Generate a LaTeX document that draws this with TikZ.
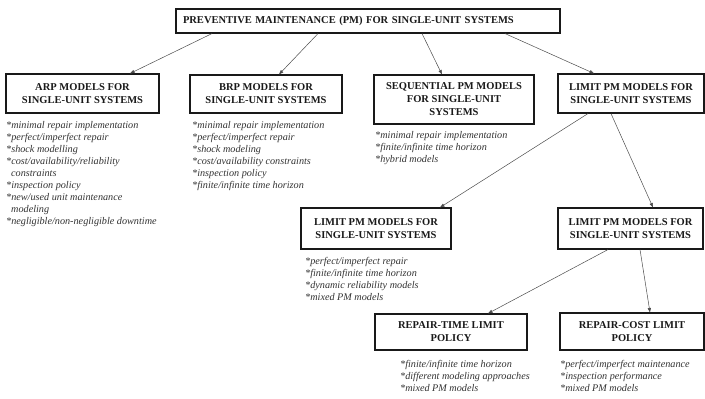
\documentclass[tikz,border=0pt]{standalone}
\usepackage{fontspec}
\setmainfont{Liberation Serif}
\usetikzlibrary{arrows.meta}
\begin{document}
\begin{tikzpicture}[x=1bp,y=-1bp,
  box/.style={draw=black!90, line width=1.1bp, align=center, inner sep=0pt,
    font=\fontsize{10.5bp}{13bp}\selectfont\bfseries, text=black!90},
  sz/.style 2 args={minimum width=#1bp, minimum height=#2bp},
  items/.style={align=left, anchor=north west, inner sep=0pt,
    font=\fontsize{10.2bp}{12bp}\selectfont\itshape, text=black!80},
  link/.style={draw=black!70, line width=0.5bp,
    -{Triangle[length=4.5bp,width=3.2bp]}}]
\useasboundingbox (0,0) rectangle (705,398);

% boxes
\node[box, sz={384}{24}, inner xsep=7bp, text width=370bp, align=left] (top) at (368,21)
  {PREVENTIVE MAINTENANCE (PM) FOR SINGLE-UNIT SYSTEMS};
\node[box, sz={153}{39}] (arp) at (82.5,93.5) {ARP MODELS FOR\\SINGLE-UNIT SYSTEMS};
\node[box, sz={152}{38}] (brp) at (266,94) {BRP MODELS FOR\\SINGLE-UNIT SYSTEMS};
\node[box, sz={160}{49}] (seq) at (454,99.5) {SEQUENTIAL PM MODELS\\FOR SINGLE-UNIT\\SYSTEMS};
\node[box, sz={146}{39}] (lim) at (631,93.5) {LIMIT PM MODELS FOR\\SINGLE-UNIT SYSTEMS};
\node[box, sz={150}{41}] (midl) at (376,228.5) {LIMIT PM MODELS FOR\\SINGLE-UNIT SYSTEMS};
\node[box, sz={145}{41}] (midr) at (630.5,228.5) {LIMIT PM MODELS FOR\\SINGLE-UNIT SYSTEMS};
\node[box, sz={152}{36}] (botl) at (451,332) {REPAIR-TIME LIMIT\\POLICY};
\node[box, sz={144}{37}] (botr) at (632,331.5) {REPAIR-COST LIMIT\\POLICY};

% connectors
\draw[link] ([xshift=-156bp]top.south) -- ([xshift=47.5bp]arp.north);
\draw[link] ([xshift=-50bp]top.south) -- ([xshift=13bp]brp.north);
\draw[link] ([xshift=54bp]top.south) -- ([xshift=-12bp]seq.north);
\draw[link] ([xshift=137bp]top.south) -- ([xshift=-37bp]lim.north);
\draw[link] ([xshift=-43bp]lim.south) -- ([xshift=64bp]midl.north);
\draw[link] ([xshift=-20bp]lim.south) -- ([xshift=22.5bp]midr.north);
\draw[link] ([xshift=-22.5bp]midr.south) -- ([xshift=37bp]botl.north);
\draw[link] ([xshift=9.5bp]midr.south) -- ([xshift=18bp]botr.north);

% feature lists
\node[items] (arplist) at (6,121.5) {*minimal repair implementation\\*perfect/imperfect repair\\*shock modelling\\*cost/availability/reliability\\\hspace*{5bp}constraints\\*inspection policy\\*new/used unit maintenance\\\hspace*{5bp}modeling\\*negligible/non-negligible downtime};
\node[items] (brplist) at (192,121.5) {*minimal repair implementation\\*perfect/imperfect repair\\*shock modeling\\*cost/availability constraints\\*inspection policy\\*finite/infinite time horizon};
\node[items] (seqlist) at (375,131) {*minimal repair implementation\\*finite/infinite time horizon\\*hybrid models};
\node[items] (midllist) at (305,257) {*perfect/imperfect repair\\*finite/infinite time horizon\\*dynamic reliability models\\*mixed PM models};
\node[items] (botllist) at (400,360) {*finite/infinite time horizon\\*different modeling approaches\\*mixed PM models};
\node[items] (botrlist) at (560,360) {*perfect/imperfect maintenance\\*inspection performance\\*mixed PM models};
\end{tikzpicture}
\end{document}
